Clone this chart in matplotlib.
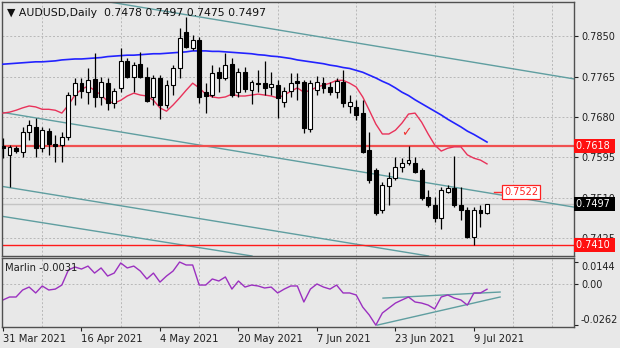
import numpy as np
import matplotlib
matplotlib.use("Agg")
import matplotlib.pyplot as plt

plt.rcParams['font.family'] = ['DejaVu Sans']

# AUDUSD daily, 31 Mar 2021 .. 13 Jul 2021 (75 bars)
date_labels = ['31 Mar 2021', '16 Apr 2021', '4 May 2021', '20 May 2021',
               '7 Jun 2021', '23 Jun 2021', '9 Jul 2021']
opens = [0.7619, 0.7600, 0.7614, 0.7606, 0.7648, 0.7659, 0.7614, 0.7650, 0.7623, 0.7621,
         0.7637, 0.7726, 0.7751, 0.7732, 0.7760, 0.7722, 0.7751, 0.7709, 0.7741, 0.7797,
         0.7764, 0.7791, 0.7764, 0.7722, 0.7762, 0.7705, 0.7747, 0.7783, 0.7858, 0.7825,
         0.7842, 0.7732, 0.7726, 0.7774, 0.7762, 0.7791, 0.7732, 0.7774, 0.7736, 0.7751,
         0.7751, 0.7743, 0.7747, 0.7711, 0.7734, 0.7755, 0.7753, 0.7654, 0.7736, 0.7751,
         0.7743, 0.7732, 0.7753, 0.7703, 0.7701, 0.7688, 0.7610, 0.7568, 0.7484, 0.7534,
         0.7551, 0.7574, 0.7583, 0.7583, 0.7568, 0.7511, 0.7494, 0.7467, 0.7522, 0.7530,
         0.7494, 0.7484, 0.7427, 0.7484, 0.7478]
highs = [0.7635, 0.7621, 0.7619, 0.7659, 0.7673, 0.7677, 0.7659, 0.7656, 0.7642, 0.7648,
         0.7732, 0.7762, 0.7762, 0.7783, 0.7814, 0.7764, 0.7762, 0.7741, 0.7825, 0.7804,
         0.7795, 0.7816, 0.7785, 0.7768, 0.7768, 0.7757, 0.7789, 0.7867, 0.7890, 0.7852,
         0.7848, 0.7751, 0.7789, 0.7785, 0.7814, 0.7804, 0.7783, 0.7785, 0.7757, 0.7778,
         0.7797, 0.7774, 0.7757, 0.7743, 0.7772, 0.7772, 0.7757, 0.7757, 0.7766, 0.7764,
         0.7753, 0.7762, 0.7778, 0.7726, 0.7715, 0.7715, 0.7648, 0.7572, 0.7543, 0.7564,
         0.7595, 0.7593, 0.7619, 0.7595, 0.7572, 0.7526, 0.7511, 0.7532, 0.7537, 0.7598,
         0.7532, 0.7490, 0.7490, 0.7494, 0.7497]
lows = [0.7593, 0.7532, 0.7604, 0.7595, 0.7631, 0.7595, 0.7606, 0.7600, 0.7585, 0.7585,
        0.7631, 0.7705, 0.7720, 0.7707, 0.7701, 0.7705, 0.7694, 0.7699, 0.7732, 0.7762,
        0.7732, 0.7762, 0.7711, 0.7705, 0.7675, 0.7699, 0.7726, 0.7762, 0.7825, 0.7821,
        0.7709, 0.7688, 0.7722, 0.7732, 0.7757, 0.7722, 0.7722, 0.7732, 0.7707, 0.7732,
        0.7726, 0.7726, 0.7677, 0.7701, 0.7722, 0.7715, 0.7646, 0.7648, 0.7726, 0.7730,
        0.7726, 0.7720, 0.7701, 0.7688, 0.7673, 0.7604, 0.7541, 0.7473, 0.7478, 0.7494,
        0.7547, 0.7564, 0.7579, 0.7562, 0.7505, 0.7490, 0.7459, 0.7444, 0.7520, 0.7490,
        0.7463, 0.7425, 0.7410, 0.7448, 0.7475]
closes = [0.7614, 0.7617, 0.7608, 0.7648, 0.7663, 0.7614, 0.7652, 0.7623, 0.7619, 0.7637,
          0.7726, 0.7751, 0.7734, 0.7757, 0.7722, 0.7753, 0.7709, 0.7734, 0.7797, 0.7764,
          0.7789, 0.7764, 0.7713, 0.7762, 0.7705, 0.7747, 0.7783, 0.7846, 0.7827, 0.7842,
          0.7722, 0.7724, 0.7772, 0.7762, 0.7789, 0.7726, 0.7774, 0.7738, 0.7753, 0.7749,
          0.7741, 0.7749, 0.7720, 0.7734, 0.7751, 0.7751, 0.7656, 0.7751, 0.7753, 0.7741,
          0.7732, 0.7755, 0.7709, 0.7711, 0.7684, 0.7606, 0.7547, 0.7478, 0.7537, 0.7551,
          0.7574, 0.7583, 0.7589, 0.7564, 0.7509, 0.7494, 0.7467, 0.7526, 0.7530, 0.7494,
          0.7484, 0.7427, 0.7484, 0.7478, 0.7497]
ma_blue = [0.7791, 0.7792, 0.7793, 0.7794, 0.7795, 0.7796, 0.7796, 0.7797, 0.7798, 0.7800,
           0.7801, 0.7802, 0.7802, 0.7803, 0.7804, 0.7805, 0.7807, 0.7808, 0.7809, 0.7810,
           0.7810, 0.7811, 0.7812, 0.7813, 0.7813, 0.7814, 0.7815, 0.7816, 0.7817, 0.7819,
           0.7819, 0.7819, 0.7818, 0.7818, 0.7817, 0.7816, 0.7815, 0.7814, 0.7813, 0.7811,
           0.7810, 0.7808, 0.7807, 0.7805, 0.7803, 0.7800, 0.7798, 0.7796, 0.7794, 0.7792,
           0.7789, 0.7787, 0.7784, 0.7782, 0.7778, 0.7774, 0.7768, 0.7762, 0.7755, 0.7749,
           0.7741, 0.7732, 0.7725, 0.7716, 0.7708, 0.7700, 0.7692, 0.7684, 0.7675, 0.7667,
           0.7659, 0.7650, 0.7643, 0.7635, 0.7627]
ma_red = [0.7688, 0.7690, 0.7694, 0.7699, 0.7703, 0.7701, 0.7696, 0.7696, 0.7694, 0.7688,
          0.7705, 0.7726, 0.7738, 0.7745, 0.7736, 0.7726, 0.7713, 0.7709, 0.7715, 0.7724,
          0.7730, 0.7726, 0.7724, 0.7715, 0.7699, 0.7692, 0.7705, 0.7720, 0.7736, 0.7751,
          0.7741, 0.7728, 0.7722, 0.7720, 0.7722, 0.7728, 0.7724, 0.7724, 0.7726, 0.7728,
          0.7726, 0.7724, 0.7720, 0.7726, 0.7734, 0.7741, 0.7732, 0.7736, 0.7743, 0.7747,
          0.7751, 0.7757, 0.7757, 0.7751, 0.7743, 0.7722, 0.7694, 0.7665, 0.7644, 0.7644,
          0.7652, 0.7667, 0.7686, 0.7688, 0.7669, 0.7644, 0.7621, 0.7608, 0.7614, 0.7617,
          0.7617, 0.7600, 0.7593, 0.7589, 0.7581]
marlin = [-0.0100, -0.0081, -0.0081, -0.0036, -0.0017, -0.0055, -0.0010, -0.0036, -0.0030, -0.0004,
          0.0093, 0.0112, 0.0099, 0.0118, 0.0073, 0.0106, 0.0054, 0.0073, 0.0138, 0.0106,
          0.0118, 0.0086, 0.0035, 0.0073, 0.0015, 0.0054, 0.0086, 0.0144, 0.0125, 0.0125,
          -0.0004, -0.0004, 0.0035, 0.0022, 0.0048, -0.0030, 0.0022, -0.0017, -0.0004, -0.0010,
          -0.0023, -0.0017, -0.0055, -0.0030, -0.0010, -0.0010, -0.0113, -0.0030, 0.0003, -0.0017,
          -0.0030, -0.0004, -0.0055, -0.0055, -0.0068, -0.0146, -0.0197, -0.0262, -0.0184, -0.0152,
          -0.0120, -0.0100, -0.0081, -0.0113, -0.0120, -0.0133, -0.0158, -0.0081, -0.0068, -0.0088,
          -0.0100, -0.0133, -0.0055, -0.0055, -0.0031]

# trend lines: ((bar, price), (bar, price))
channel_lines = [((30.3, 0.7890), (87.3, 0.7760)),
                 ((-0.3, 0.7690), (87.3, 0.7490)),
                 ((-0.3, 0.7534), (62.4, 0.7393)),
                 ((-0.3, 0.7471), (30.3, 0.7404))]
marlin_lines = [((58.1, -0.0088), (76.0, -0.0049)),
                ((57.2, -0.0262), (76.0, -0.0081))]
level_hi = 0.7618
level_lo = 0.7410
bid = 0.7497
price_label = 0.7522
price_ticks = [0.7850, 0.7765, 0.7680, 0.7595, 0.7510, 0.7425]

BG = '#e8e8e8'
TEAL = '#5f9ea0'
GRID = '#b8b8b8'

n = len(closes)
x = np.arange(n)
fig = plt.figure(figsize=(6.2, 3.48), dpi=100)
fig.patch.set_facecolor(BG)
ax = fig.add_axes([2/620, 1-256/348, 572/620, 254/348])
ax2 = fig.add_axes([2/620, 1-327/348, 572/620, 69/348])

for a in (ax, ax2):
    a.set_facecolor(BG)
    a.set_xlim(-0.15, 87.3)
    for s in a.spines.values():
        s.set_color('#505050')
        s.set_linewidth(1.0)
    a.yaxis.tick_right()
    a.tick_params(axis='y', direction='out', length=3, labelsize=7, pad=2, colors='#202020')
    a.set_xticks(np.arange(0, 88, 6), minor=True)
    a.grid(True, which='minor', axis='x', color=GRID, linestyle=(0, (2, 2)), linewidth=0.7)
    a.tick_params(axis='x', which='minor', length=0)

# main panel
ax.set_ylim(0.7387, 0.7922)
ax.set_yticks(price_ticks)
ax.set_yticklabels(['%.4f' % v for v in price_ticks])
ax.grid(True, which='major', axis='y', color=GRID, linestyle=(0, (2, 2)), linewidth=0.7)
ax.set_xticks(np.arange(0, n, 12))
ax.tick_params(axis='x', which='major', length=0, labelbottom=False)

ax.axhline(bid, color='#c4c4c4', lw=1.0, zorder=1)
for p0, p1 in channel_lines:
    ax.axline(p0, p1, color=TEAL, lw=1.0, zorder=2)
ax.axhline(level_hi, color='#f05050', lw=1.6, zorder=2)
ax.axhline(level_lo, color='#ff1a1a', lw=1.0, zorder=2)

ax.plot(x, ma_blue, color='#2222ff', lw=1.2, zorder=3)
ax.plot(x, ma_red, color='#e8325a', lw=1.0, zorder=3)

o = np.array(opens); c = np.array(closes)
ax.vlines(x, lows, highs, color='black', lw=0.9, zorder=4)
up = c >= o
body_lo = np.minimum(o, c)
body_h = np.maximum(np.abs(c - o), 0.00012)
ax.bar(x[up], body_h[up], bottom=body_lo[up], width=0.6, color='white',
       edgecolor='black', linewidth=0.8, zorder=5)
ax.bar(x[~up], body_h[~up], bottom=body_lo[~up], width=0.6, color='black',
       edgecolor='black', linewidth=0.8, zorder=5)

ax.text(61.6, 0.7646, '\u2713', color='#f03030', fontsize=9, fontweight='bold',
        ha='center', va='center', zorder=6)

# right price label object
ax.plot([75.1, 76.5], [price_label, price_label], color='#ff3030', lw=1.0, zorder=6)
ax.text(76.6, price_label, '%.4f' % price_label, color='#ff2020', fontsize=7,
        ha='left', va='center', zorder=7,
        bbox=dict(facecolor='white', edgecolor='#ff2020', pad=1.2, linewidth=0.9))

# highlighted right-axis labels (drawn over the scale, as the terminal does)
ytr = ax.get_yaxis_transform()
for val, bg in ((level_hi, '#ff1010'), (level_lo, '#ff1010'), (bid, 'black')):
    ax.text(1.004, val, '%.4f ' % val, transform=ytr, color='white', fontsize=7,
            ha='left', va='center', clip_on=False, zorder=10,
            bbox=dict(facecolor=bg, edgecolor='none', pad=1.3))

ax.text(0.008, 0.975, '\u25bc AUDUSD,Daily  0.7478 0.7497 0.7475 0.7497',
        transform=ax.transAxes, fontsize=7.8, ha='left', va='top', color='#101010')

# Marlin panel
ax2.set_ylim(-0.0274, 0.0170)
ax2.set_yticks([0.0144, 0.0, -0.0262])
ax2.set_yticklabels(['0.0144', '0.00', '-0.0262'])
labs = ax2.get_yticklabels()
labs[0].set_va('top')
labs[2].set_va('bottom')
ax2.axhline(0, color=GRID, linestyle=(0, (2, 2)), lw=0.7)
for p0, p1 in marlin_lines:
    ax2.plot([p0[0], p1[0]], [p0[1], p1[1]], color=TEAL, lw=1.0)
ax2.plot(x, marlin, color='#9b30c0', lw=1.0)
ax2.text(0.006, 0.93, 'Marlin %.4f' % marlin[-1], transform=ax2.transAxes,
         fontsize=7.2, ha='left', va='top', color='#202020')

ax2.set_xticks(np.arange(0, n, 12))
ax2.set_xticklabels(date_labels, ha='left')
ax2.tick_params(axis='x', which='major', direction='out', length=3, labelsize=7.2,
                pad=2, colors='#202020')

fig.savefig('out.png', dpi=100, facecolor=BG)
